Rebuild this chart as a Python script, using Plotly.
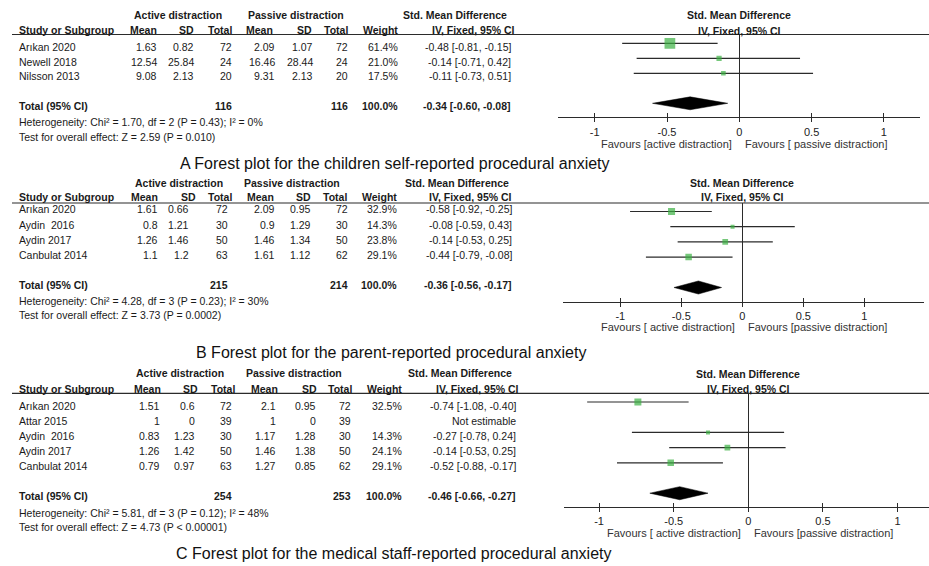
import plotly.graph_objects as go

W, H = 929, 566

# ---------------- shared labels ----------------
group_headers = ["Active distraction", "Passive distraction", "Std. Mean Difference"]
col_headers = ["Mean", "SD", "Total", "Mean", "SD", "Total", "Weight", "IV, Fixed, 95% CI"]
study_header = "Study or Subgroup"
total_label = "Total (95% CI)"
plot_headers = ["Std. Mean Difference", "IV, Fixed, 95% CI"]
tick_vals = [-1, -0.5, 0, 0.5, 1]
tick_text = ["-1", "-0.5", "0", "0.5", "1"]

# ---------------- panel A ----------------
A_study = ["Arıkan 2020", "Newell 2018", "Nilsson 2013"]
A_act_mean = [1.63, 12.54, 9.08]
A_act_sd = [0.82, 25.84, 2.13]
A_act_n = [72, 24, 20]
A_pas_mean = [2.09, 16.46, 9.31]
A_pas_sd = [1.07, 28.44, 2.13]
A_pas_n = [72, 24, 20]
A_weight = [61.4, 21.0, 17.5]
A_smd = [-0.48, -0.14, -0.11]
A_lo = [-0.81, -0.71, -0.73]
A_hi = [-0.15, 0.42, 0.51]
A_total_n = [116, 116]
A_total_weight = 100.0
A_total_smd = [-0.34, -0.60, -0.08]
A_het = "Heterogeneity: Chi² = 1.70, df = 2 (P = 0.43); I² = 0%"
A_test = "Test for overall effect: Z = 2.59 (P = 0.010)"
A_favours = ["Favours [active distraction]", "Favours [ passive distraction]"]
A_caption = "A Forest plot for the children self-reported procedural anxiety"

# ---------------- panel B ----------------
B_study = ["Arıkan 2020", "Aydin\u00a0 2016", "Aydin 2017", "Canbulat 2014"]
B_act_mean = [1.61, 0.8, 1.26, 1.1]
B_act_sd = [0.66, 1.21, 1.46, 1.2]
B_act_n = [72, 30, 50, 63]
B_pas_mean = [2.09, 0.9, 1.46, 1.61]
B_pas_sd = [0.95, 1.29, 1.34, 1.12]
B_pas_n = [72, 30, 50, 62]
B_weight = [32.9, 14.3, 23.8, 29.1]
B_smd = [-0.58, -0.08, -0.14, -0.44]
B_lo = [-0.92, -0.59, -0.53, -0.79]
B_hi = [-0.25, 0.43, 0.25, -0.08]
B_total_n = [215, 214]
B_total_weight = 100.0
B_total_smd = [-0.36, -0.56, -0.17]
B_het = "Heterogeneity: Chi² = 4.28, df = 3 (P = 0.23); I² = 30%"
B_test = "Test for overall effect: Z = 3.73 (P = 0.0002)"
B_favours = ["Favours [ active distraction]", "Favours [passive distraction]"]
B_caption = "B Forest plot for the parent-reported procedural anxiety"

# ---------------- panel C ----------------
C_study = ["Arıkan 2020", "Attar 2015", "Aydin\u00a0 2016", "Aydin 2017", "Canbulat 2014"]
C_act_mean = [1.51, 1, 0.83, 1.26, 0.79]
C_act_sd = [0.6, 0, 1.23, 1.42, 0.97]
C_act_n = [72, 39, 30, 50, 63]
C_pas_mean = [2.1, 1, 1.17, 1.46, 1.27]
C_pas_sd = [0.95, 0, 1.28, 1.38, 0.85]
C_pas_n = [72, 39, 30, 50, 62]
C_weight = [32.5, None, 14.3, 24.1, 29.1]
C_smd = [-0.74, None, -0.27, -0.14, -0.52]
C_lo = [-1.08, None, -0.78, -0.53, -0.88]
C_hi = [-0.40, None, 0.24, 0.25, -0.17]
C_total_n = [254, 253]
C_total_weight = 100.0
C_total_smd = [-0.46, -0.66, -0.27]
C_het = "Heterogeneity: Chi² = 5.81, df = 3 (P = 0.12); I² = 48%"
C_test = "Test for overall effect: Z = 4.73 (P < 0.00001)"
C_favours = ["Favours [ active distraction]", "Favours [passive distraction]"]
C_caption = "C Forest plot for the medical staff-reported procedural anxiety"
not_estimable = "Not estimable"

# ---------------- styling / geometry ----------------
FONT = "Liberation Sans, Arial, sans-serif"
TXT = "#1a1a1a"
LINE = "#2b2b2b"
GREEN = "#3cb043"
FS = 10.5

panels = [
    dict(data=(A_study, A_act_mean, A_act_sd, A_act_n, A_pas_mean, A_pas_sd, A_pas_n,
               A_weight, A_smd, A_lo, A_hi, A_total_n, A_total_weight, A_total_smd,
               A_het, A_test, A_favours, A_caption),
         hdr1=15, hdr2=30, line=34.5, row0=46.5, rstep=15, total=106, het=122, test=137,
         cap=(395, 163), left=558, right=920, zero=739.3, unit=144.6, axis=117.3,
         mrow0=43.3, mstep=15, fav=144, phdr=(15, 31),
         gcols=[178, 296, 455], hcols=[158, 195, 233, 274, 313, 349, 399, 516],
         vcols=[158, 195, 233, 276, 314, 349, 399, 512]),
    dict(data=(B_study, B_act_mean, B_act_sd, B_act_n, B_pas_mean, B_pas_sd, B_pas_n,
               B_weight, B_smd, B_lo, B_hi, B_total_n, B_total_weight, B_total_smd,
               B_het, B_test, B_favours, B_caption),
         hdr1=183, hdr2=197, line=203, row0=209.5, rstep=15.3, total=285, het=301, test=315,
         cap=(391, 352), left=563, right=924, zero=742.3, unit=122, axis=301.7,
         mrow0=211.5, mstep=15.2, fav=327, phdr=(183, 197),
         gcols=[179, 292, 457], hcols=[159, 197, 233, 275, 312, 348, 398, 513],
         vcols=[159, 190, 229, 276, 312, 349, 398, 513]),
    dict(data=(C_study, C_act_mean, C_act_sd, C_act_n, C_pas_mean, C_pas_sd, C_pas_n,
               C_weight, C_smd, C_lo, C_hi, C_total_n, C_total_weight, C_total_smd,
               C_het, C_test, C_favours, C_caption),
         hdr1=373, hdr2=389, line=393.3, row0=406, rstep=15, total=496, het=513, test=527,
         cap=(393, 553), left=564, right=929, zero=748.3, unit=149.2, axis=506.7,
         mrow0=402, mstep=15.2, fav=533, phdr=(374, 389),
         gcols=[180, 294, 460], hcols=[162, 199, 236, 279, 318, 353, 403, 520],
         vcols=[161, 196, 233, 277, 317, 352, 403, 517]),
]


def fx(x):
    return x / W


def fy(y):
    return 1 - y / H


def g(v):
    return f"{v:g}"


annotations = []
shapes = []


def txt(x, y, s, anchor="left", bold=False, size=FS, color=TXT):
    annotations.append(dict(
        x=fx(x), y=fy(y), xref="paper", yref="paper", text=(f"<b>{s}</b>" if bold else s),
        showarrow=False, xanchor=anchor, yanchor="middle",
        font=dict(family=FONT, size=size, color=color), borderpad=0))


fig = go.Figure()
layout_axes = {}

for k, p in enumerate(panels):
    (study, am, asd, an, pm, psd, pn, wt, smd, lo, hi, tot_n, tot_w, tot_smd, het, test,
     fav, cap) = p["data"]
    xa = f"x{k + 2}"
    ya = f"y{k + 2}"
    xo = f"x{k + 5}"

    # ---- table text ----
    for s, cx in zip(group_headers, p["gcols"]):
        txt(cx, p["hdr1"], s, "center", bold=True)
    txt(18, p["hdr2"], study_header, "left", bold=True)
    for s, cx in zip(col_headers, p["hcols"]):
        txt(cx, p["hdr2"], s, "right", bold=True)
    shapes.append(dict(type="line", xref="paper", yref="paper", x0=fx(12), x1=fx(W),
                       y0=fy(p["line"]), y1=fy(p["line"]), line=dict(color=LINE, width=1.2)))

    for i, name in enumerate(study):
        y = p["row0"] + i * p["rstep"]
        txt(18, y, name)
        vals = [g(am[i]), g(asd[i]), str(an[i]), g(pm[i]), g(psd[i]), str(pn[i]),
                (f"{wt[i]:.1f}%" if wt[i] is not None else ""),
                (f"{smd[i]:.2f} [{lo[i]:.2f}, {hi[i]:.2f}]" if smd[i] is not None else not_estimable)]
        for v, cx in zip(vals, p["vcols"]):
            if v:
                txt(cx, y, v, "right")

    txt(18, p["total"], total_label, bold=True)
    txt(p["vcols"][2], p["total"], str(tot_n[0]), "right", bold=True)
    txt(p["vcols"][5], p["total"], str(tot_n[1]), "right", bold=True)
    txt(p["vcols"][6], p["total"], f"{tot_w:.1f}%", "right", bold=True)
    txt(p["vcols"][7], p["total"],
        f"{tot_smd[0]:.2f} [{tot_smd[1]:.2f}, {tot_smd[2]:.2f}]", "right", bold=True)
    txt(18, p["het"], het)
    txt(18, p["test"], test)

    # ---- plot headers / labels ----
    txt(p["zero"], p["phdr"][0], plot_headers[0], "center", bold=True)
    txt(p["zero"], p["phdr"][1], plot_headers[1], "center", bold=True)
    txt(p["zero"] - 6, p["fav"], fav[0], "right", size=11, color="#333333")
    txt(p["zero"] + 5, p["fav"], fav[1], "left", size=11, color="#333333")
    txt(p["cap"][0], p["cap"][1], cap, "center", size=16, color="#111111")

    # ---- axes ----
    xr = [(p["left"] - p["zero"]) / p["unit"], (p["right"] - p["zero"]) / p["unit"]]
    yr = [(p["axis"] - p["mrow0"]) / p["mstep"], (p["line"] - p["mrow0"]) / p["mstep"]]
    layout_axes[f"xaxis{k + 2}"] = dict(
        domain=[fx(p["left"]), fx(p["right"])], range=xr, anchor=ya,
        showline=True, linecolor=LINE, linewidth=1.2, ticks="outside", ticklen=4,
        tickwidth=1.2, tickcolor=LINE, tickvals=tick_vals, ticktext=tick_text,
        tickfont=dict(family=FONT, size=11, color="#222222"),
        zeroline=True, zerolinecolor=LINE, zerolinewidth=1.2, showgrid=False)
    layout_axes[f"yaxis{k + 2}"] = dict(
        domain=[fy(p["axis"]), fy(p["line"])], range=yr, anchor=xa,
        visible=False, showgrid=False, zeroline=False)
    layout_axes[f"xaxis{k + 5}"] = dict(
        overlaying=xa, range=xr, anchor=ya, side="bottom", ticks="inside", ticklen=4,
        tickwidth=1.2, tickcolor=LINE, tickvals=tick_vals, showticklabels=False,
        showline=False, zeroline=False, showgrid=False)

    # ---- traces ----
    lx, ly = [], []
    for i in range(len(study)):
        if smd[i] is None:
            continue
        lx += [lo[i], hi[i], None]
        ly += [i, i, None]
    fig.add_trace(go.Scatter(x=lx, y=ly, mode="lines", xaxis=xa, yaxis=ya,
                             line=dict(color=LINE, width=1.2), hoverinfo="skip",
                             showlegend=False))
    mx = [smd[i] for i in range(len(study)) if smd[i] is not None]
    my = [i for i in range(len(study)) if smd[i] is not None]
    ms = [0.68 * wt[i] ** 0.67 for i in range(len(study)) if smd[i] is not None]
    fig.add_trace(go.Scatter(x=mx, y=my, mode="markers", xaxis=xa, yaxis=ya,
                             marker=dict(symbol="square", size=ms, color=GREEN,
                                         line=dict(width=0)),
                             showlegend=False))
    trow = len(study) + 1
    hh = 0.43
    fig.add_trace(go.Scatter(
        x=[tot_smd[1], tot_smd[0], tot_smd[2], tot_smd[0], tot_smd[1]],
        y=[trow, trow - hh, trow, trow + hh, trow],
        mode="lines", fill="toself", fillcolor="#000000",
        line=dict(color="#000000", width=0.5), xaxis=xa, yaxis=ya,
        hoverinfo="skip", showlegend=False))
    fig.add_trace(go.Scatter(x=[None], y=[None], xaxis=xo, yaxis=ya, mode="markers",
                             showlegend=False, hoverinfo="skip"))

fig.update_layout(
    width=W, height=H, margin=dict(l=0, r=0, t=0, b=0, pad=0),
    paper_bgcolor="white", plot_bgcolor="rgba(0,0,0,0)",
    xaxis=dict(visible=False, domain=[0, 0.001]), yaxis=dict(visible=False, domain=[0, 0.001]),
    annotations=annotations, shapes=shapes, showlegend=False,
    font=dict(family=FONT, color=TXT),
    **layout_axes,
)

fig.write_html("out.html", config={"displayModeBar": False},
               post_script="document.body.style.margin='0px';document.body.style.overflow='hidden';")
